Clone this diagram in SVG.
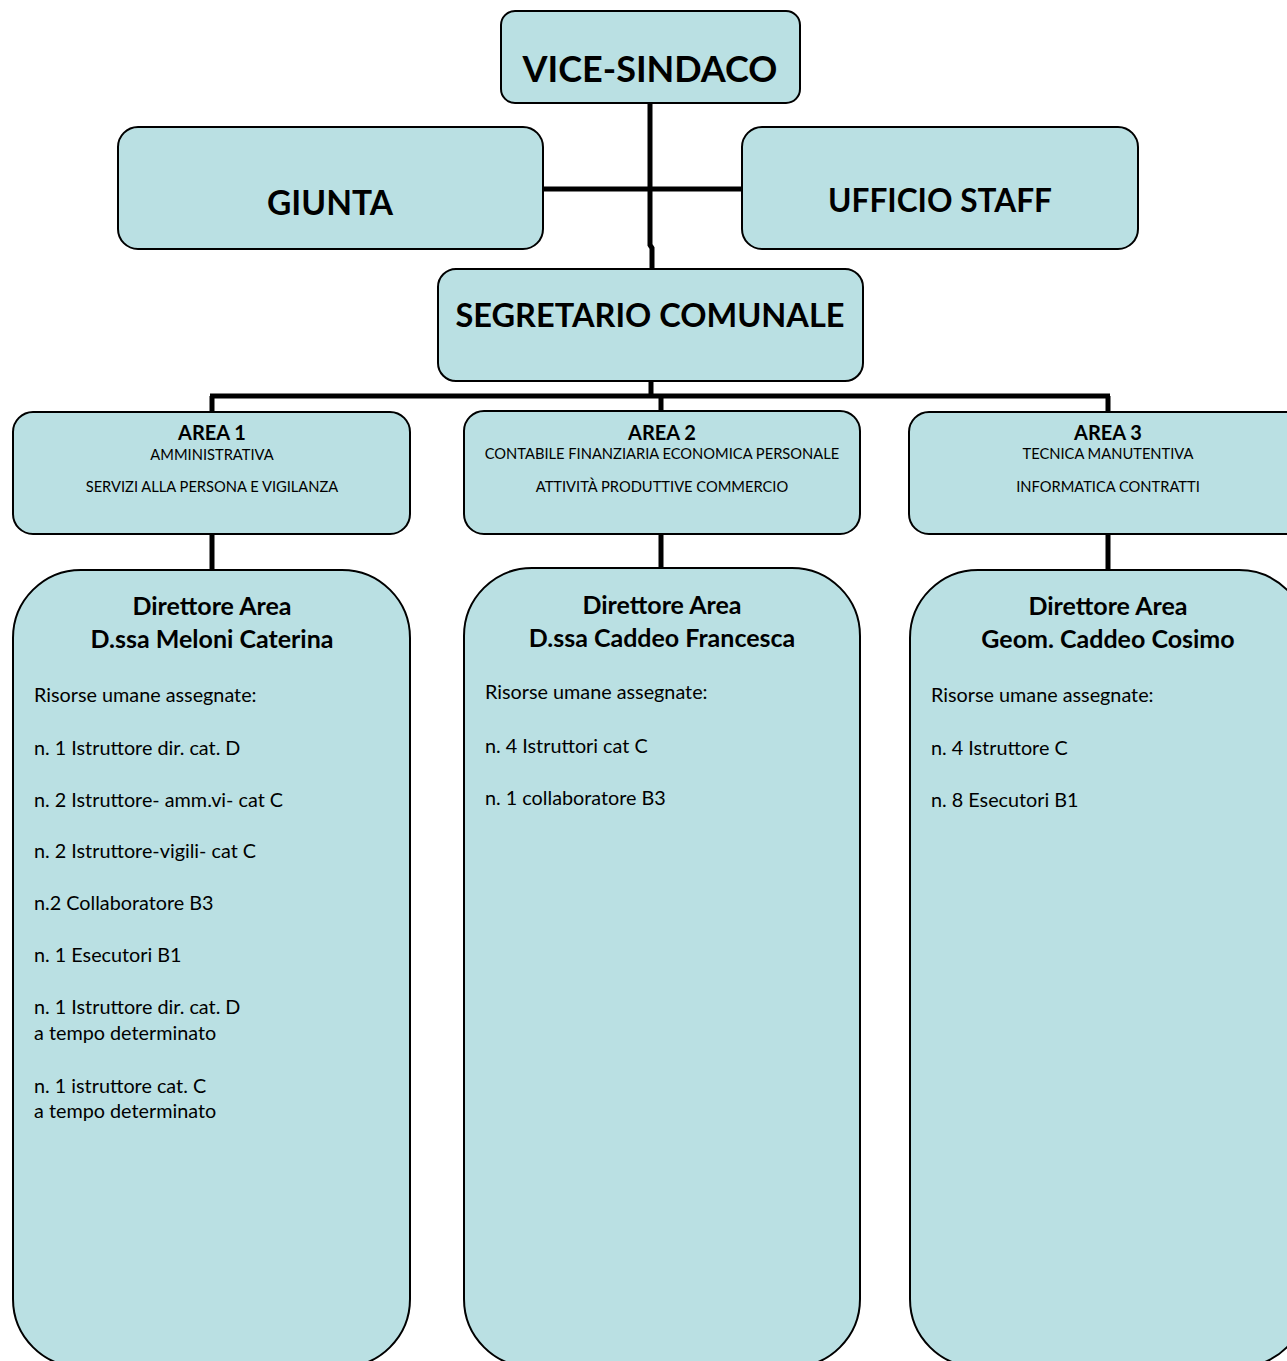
<svg xmlns="http://www.w3.org/2000/svg" width="1287" height="1361" viewBox="0 0 1287 1361">
<style>
.box{fill:#bae0e3;stroke:#000;stroke-width:2}
.con{stroke:#000;stroke-width:5;fill:none}
text{font-family:Lato,"Open Sans","DejaVu Sans",sans-serif;fill:#000}
.big{font-weight:bold;font-size:32.5px;text-anchor:middle}
.ah{font-weight:bold;font-size:20px;text-anchor:middle}
.as{font-size:14.7px;text-anchor:middle}
.dh{font-weight:bold;font-size:25px;text-anchor:middle}
.b{font-size:19.8px}
</style>
<rect width="1287" height="1361" fill="#fff"/>
<g id="connectors">
<path class="con" d="M650 103 V245 L652 248 V269"/>
<path class="con" d="M543 189 H742" stroke-width="6"/>
<path class="con" d="M651 381 V396"/>
<path class="con" d="M210 396 H1110"/>
<path class="con" d="M212 396 V412 M661 396 V411 M1108 396 V412"/>
<path class="con" d="M212 534 V570 M661 534 V568 M1108 534 V570"/>
</g>
<g id="vice-sindaco">
<rect class="box" x="501" y="11" width="299" height="92" rx="14"/>
<text class="big" x="650" y="82" style="font-size:36px">VICE-SINDACO</text>
</g>
<g id="giunta">
<rect class="box" x="118" y="127" width="425" height="122" rx="20"/>
<text class="big" x="330" y="215" style="font-size:33.5px">GIUNTA</text>
</g>
<g id="ufficio-staff">
<rect class="box" x="742" y="127" width="396" height="122" rx="20"/>
<text class="big" x="940" y="212" style="font-size:31.6px">UFFICIO STAFF</text>
</g>
<g id="segretario">
<rect class="box" x="438" y="269" width="425" height="112" rx="18"/>
<text class="big" x="650" y="327">SEGRETARIO COMUNALE</text>
</g>
<g id="area1">
<rect class="box" x="13" y="412" width="397" height="122" rx="20"/>
<text class="ah" x="212" y="440">AREA 1</text>
<text class="as" x="212" y="460">AMMINISTRATIVA</text>
<text class="as" x="212" y="492">SERVIZI ALLA PERSONA E VIGILANZA</text>
</g>
<g id="area2">
<rect class="box" x="464" y="411" width="396" height="123" rx="20"/>
<text class="ah" x="662" y="440">AREA 2</text>
<text class="as" x="662" y="459">CONTABILE FINANZIARIA ECONOMICA PERSONALE</text>
<text class="as" x="662" y="492">ATTIVITÀ PRODUTTIVE COMMERCIO</text>
</g>
<g id="area3">
<rect class="box" x="909" y="412" width="398" height="122" rx="20"/>
<text class="ah" x="1108" y="440">AREA 3</text>
<text class="as" x="1108" y="459">TECNICA MANUTENTIVA</text>
<text class="as" x="1108" y="492">INFORMATICA CONTRATTI</text>
</g>
<g id="direttore1">
<rect class="box" x="13" y="570" width="397" height="797" rx="68"/>
<text class="dh" x="212" y="615">Direttore Area</text>
<text class="dh" x="212" y="648">D.ssa Meloni Caterina</text>
<text class="b" x="34" y="702">Risorse umane assegnate:</text>
<text class="b" x="34" y="755">n. 1 Istruttore dir. cat. D</text>
<text class="b" x="34" y="807">n. 2 Istruttore- amm.vi- cat C</text>
<text class="b" x="34" y="858">n. 2 Istruttore-vigili- cat C</text>
<text class="b" x="34" y="910">n.2 Collaboratore B3</text>
<text class="b" x="34" y="962">n. 1 Esecutori B1</text>
<text class="b" x="34" y="1014">n. 1 Istruttore dir. cat. D</text>
<text class="b" x="34" y="1040">a tempo determinato</text>
<text class="b" x="34" y="1093">n. 1 istruttore cat. C</text>
<text class="b" x="34" y="1118">a tempo determinato</text>
</g>
<g id="direttore2">
<rect class="box" x="464" y="568" width="396" height="799" rx="68"/>
<text class="dh" x="662" y="614">Direttore Area</text>
<text class="dh" x="662" y="647">D.ssa Caddeo Francesca</text>
<text class="b" x="485" y="699">Risorse umane assegnate:</text>
<text class="b" x="485" y="753">n. 4 Istruttori cat C</text>
<text class="b" x="485" y="805">n. 1 collaboratore B3</text>
</g>
<g id="direttore3">
<rect class="box" x="910" y="570" width="397" height="797" rx="68"/>
<text class="dh" x="1108" y="615">Direttore Area</text>
<text class="dh" x="1108" y="648">Geom. Caddeo Cosimo</text>
<text class="b" x="931" y="702">Risorse umane assegnate:</text>
<text class="b" x="931" y="755">n. 4 Istruttore C</text>
<text class="b" x="931" y="807">n. 8 Esecutori B1</text>
</g>
</svg>
